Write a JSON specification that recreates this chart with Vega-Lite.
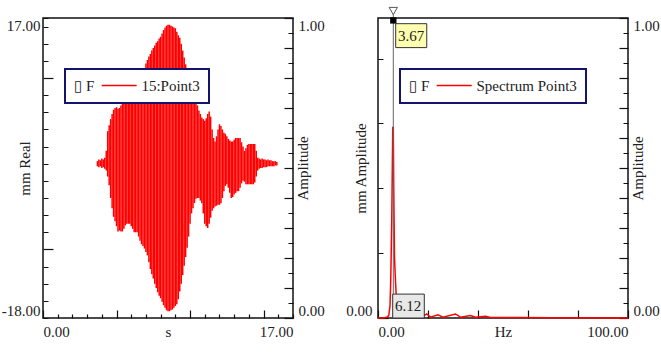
{
  "$schema": "https://vega.github.io/schema/vega-lite/v6.json",
  "padding": {"left": 0, "top": 4, "right": 0, "bottom": 0},
  "background": "white",
  "bounds": "flush",
  "spacing": 85,
  "config": {
    "font": "Liberation Serif",
    "view": {"stroke": "#111", "strokeWidth": 1.5},
    "axis": {
      "labelFont": "Liberation Serif", "labelFontSize": 15, "labelColor": "#222",
      "titleFont": "Liberation Serif", "titleFontSize": 15, "titleFontWeight": "normal", "titleColor": "#222",
      "domain": false, "tickColor": "#111", "tickWidth": 1.2,
      "grid": false, "labelFlush": true, "labelOverlap": false
    },
    "legend": {
      "titleOrient": "left", "titleFont": "Liberation Serif, DejaVu Sans", "titleFontSize": 15, "titleFontWeight": "normal",
      "titleColor": "#222", "titlePadding": 16.7, "titleBaseline": "middle",
      "labelFont": "Liberation Serif", "labelFontSize": 15, "labelColor": "#222", "labelOffset": 14.7,
      "symbolType": "M-3,0H3", "symbolSize": 136, "symbolStrokeWidth": 1.5,
      "padding": 9, "strokeColor": "#14146e", "fillColor": "white", "strokeWidth": 2
    }
  },
  "resolve": {"scale": {"color": "independent"}, "legend": {"color": "independent"}},
  "datasets": {
    "wave": [
      {"t":3.7,"hi":0.3,"lo":-0.3},{"t":3.8,"hi":0.5,"lo":-0.4},{"t":3.9,"hi":0.4,"lo":-0.3},{"t":4.0,"hi":0.6,"lo":-0.5},
      {"t":4.1,"hi":0.5,"lo":-0.4},{"t":4.2,"hi":0.7,"lo":-0.6},{"t":4.3,"hi":1.5,"lo":-0.8},{"t":4.4,"hi":3.8,"lo":-1.5},
      {"t":4.5,"hi":4.5,"lo":-2.5},{"t":4.6,"hi":5.2,"lo":-4.0},{"t":4.7,"hi":5.8,"lo":-5.2},{"t":4.8,"hi":6.3,"lo":-6.2},
      {"t":4.9,"hi":6.5,"lo":-6.7},{"t":5.0,"hi":6.6,"lo":-7.3},{"t":5.1,"hi":6.4,"lo":-7.9},{"t":5.2,"hi":6.5,"lo":-7.8},
      {"t":5.3,"hi":6.8,"lo":-7.9},{"t":5.4,"hi":7.0,"lo":-7.9},{"t":5.5,"hi":7.2,"lo":-7.6},{"t":5.6,"hi":7.3,"lo":-7.2},
      {"t":5.7,"hi":7.4,"lo":-7.0},{"t":5.8,"hi":7.6,"lo":-7.0},{"t":5.9,"hi":7.7,"lo":-7.0},{"t":6.0,"hi":8.0,"lo":-7.3},
      {"t":6.1,"hi":8.4,"lo":-7.6},{"t":6.2,"hi":8.7,"lo":-8.0},{"t":6.3,"hi":9.0,"lo":-8.0},{"t":6.4,"hi":9.3,"lo":-8.0},
      {"t":6.5,"hi":9.5,"lo":-8.5},{"t":6.6,"hi":9.6,"lo":-9.0},{"t":6.7,"hi":10.0,"lo":-9.4},{"t":6.8,"hi":10.5,"lo":-9.6},
      {"t":6.9,"hi":11.1,"lo":-9.9},{"t":7.0,"hi":11.7,"lo":-10.3},{"t":7.1,"hi":12.1,"lo":-10.7},{"t":7.2,"hi":12.5,"lo":-11.5},
      {"t":7.3,"hi":12.8,"lo":-12.3},{"t":7.4,"hi":13.2,"lo":-12.9},{"t":7.5,"hi":13.5,"lo":-13.4},{"t":7.6,"hi":13.8,"lo":-14.0},
      {"t":7.7,"hi":14.1,"lo":-14.5},{"t":7.8,"hi":14.3,"lo":-15.0},{"t":7.9,"hi":14.6,"lo":-15.4},{"t":8.0,"hi":14.8,"lo":-15.7},
      {"t":8.1,"hi":15.2,"lo":-16.1},{"t":8.2,"hi":15.6,"lo":-16.5},{"t":8.3,"hi":15.9,"lo":-16.8},{"t":8.4,"hi":16.1,"lo":-17.1},
      {"t":8.5,"hi":16.2,"lo":-17.2},{"t":8.6,"hi":16.2,"lo":-17.2},{"t":8.7,"hi":16.1,"lo":-17.1},{"t":8.8,"hi":16.0,"lo":-17.0},
      {"t":8.9,"hi":15.9,"lo":-16.8},{"t":9.0,"hi":15.8,"lo":-16.6},{"t":9.1,"hi":15.4,"lo":-16.4},{"t":9.2,"hi":15.0,"lo":-15.8},
      {"t":9.3,"hi":14.7,"lo":-14.9},{"t":9.4,"hi":14.0,"lo":-14.0},{"t":9.5,"hi":13.2,"lo":-13.0},{"t":9.6,"hi":12.4,"lo":-11.9},
      {"t":9.7,"hi":11.6,"lo":-10.9},{"t":9.8,"hi":10.5,"lo":-9.8},{"t":9.9,"hi":9.9,"lo":-8.5},{"t":10.0,"hi":9.3,"lo":-7.0},
      {"t":10.1,"hi":8.7,"lo":-5.8},{"t":10.2,"hi":8.1,"lo":-5.2},{"t":10.3,"hi":7.6,"lo":-4.6},{"t":10.4,"hi":7.3,"lo":-4.1},
      {"t":10.5,"hi":6.8,"lo":-4.0},{"t":10.6,"hi":6.2,"lo":-4.0},{"t":10.7,"hi":5.8,"lo":-4.3},{"t":10.8,"hi":5.4,"lo":-4.6},
      {"t":10.9,"hi":5.2,"lo":-5.8},{"t":11.0,"hi":5.0,"lo":-7.0},{"t":11.1,"hi":5.3,"lo":-7.3},{"t":11.2,"hi":5.8,"lo":-7.5},
      {"t":11.3,"hi":6.1,"lo":-7.0},{"t":11.4,"hi":5.5,"lo":-6.3},{"t":11.5,"hi":4.0,"lo":-5.5},{"t":11.6,"hi":3.0,"lo":-5.2},
      {"t":11.7,"hi":2.6,"lo":-5.0},{"t":11.8,"hi":3.2,"lo":-4.9},{"t":11.9,"hi":4.0,"lo":-4.8},{"t":12.0,"hi":4.6,"lo":-4.8},
      {"t":12.1,"hi":4.4,"lo":-4.6},{"t":12.2,"hi":4.0,"lo":-4.0},{"t":12.3,"hi":3.6,"lo":-3.2},{"t":12.4,"hi":3.5,"lo":-2.6},
      {"t":12.5,"hi":3.2,"lo":-2.4},{"t":12.6,"hi":2.9,"lo":-2.8},{"t":12.7,"hi":2.7,"lo":-3.4},{"t":12.8,"hi":2.6,"lo":-4.0},
      {"t":12.9,"hi":2.6,"lo":-3.9},{"t":13.0,"hi":2.8,"lo":-3.6},{"t":13.1,"hi":3.0,"lo":-3.4},{"t":13.2,"hi":3.0,"lo":-3.2},
      {"t":13.3,"hi":3.0,"lo":-3.2},{"t":13.4,"hi":3.0,"lo":-2.8},{"t":13.5,"hi":2.5,"lo":-2.3},{"t":13.6,"hi":2.0,"lo":-2.0},
      {"t":13.7,"hi":1.5,"lo":-2.1},{"t":13.8,"hi":1.8,"lo":-2.4},{"t":13.9,"hi":2.2,"lo":-2.4},{"t":14.0,"hi":2.3,"lo":-2.4},
      {"t":14.1,"hi":2.3,"lo":-2.4},{"t":14.2,"hi":2.3,"lo":-2.4},{"t":14.3,"hi":2.3,"lo":-2.4},{"t":14.4,"hi":2.3,"lo":-2.2},
      {"t":14.5,"hi":1.5,"lo":-1.5},{"t":14.6,"hi":0.7,"lo":-0.8},{"t":14.7,"hi":0.6,"lo":-0.6},{"t":14.8,"hi":0.5,"lo":-0.5},
      {"t":14.9,"hi":0.6,"lo":-0.5},{"t":15.0,"hi":0.5,"lo":-0.4},{"t":15.1,"hi":0.5,"lo":-0.4},{"t":15.2,"hi":0.4,"lo":-0.4},
      {"t":15.3,"hi":0.5,"lo":-0.3},{"t":15.4,"hi":0.4,"lo":-0.3},{"t":15.5,"hi":0.4,"lo":-0.3},{"t":15.6,"hi":0.3,"lo":-0.3},
      {"t":15.7,"hi":0.3,"lo":-0.3},{"t":15.8,"hi":0.3,"lo":-0.2},{"t":15.9,"hi":0.2,"lo":-0.2}
    ],
    "spectrum": [
      {"f":0,"a":0},{"f":2,"a":0.0},{"f":3.5,"a":0.01},{"f":4.3,"a":0.03},{"f":4.8,"a":0.15},{"f":5.1,"a":0.47},
      {"f":5.5,"a":1.2},{"f":5.9,"a":2.35},{"f":6.12,"a":2.35},{"f":6.3,"a":1.6},{"f":6.6,"a":0.74},{"f":7.0,"a":0.45},
      {"f":7.5,"a":0.15},{"f":8.2,"a":0.05},{"f":9,"a":0.02},{"f":12,"a":0.01},{"f":15,"a":0.01},{"f":18,"a":0.02},
      {"f":19.5,"a":0.05},{"f":21,"a":0.01},{"f":24,"a":0.04},{"f":26,"a":0.01},{"f":31,"a":0.05},{"f":33,"a":0.01},
      {"f":37,"a":0.03},{"f":39,"a":0.01},{"f":43,"a":0.02},{"f":45,"a":0.005},{"f":55,"a":0.005},{"f":70,"a":0.003},{"f":100,"a":0}
    ],
    "dummy": [{"amp": 0}, {"amp": 1}]
  },
  "hconcat": [
    {
      "width": 250, "height": 300,
      "resolve": {"scale": {"y": "independent"}},
      "layer": [
        {
          "data": {"name": "wave"},
          "mark": {"type": "rule", "strokeWidth": 1.5},
          "encoding": {
            "x": {"field": "t", "type": "quantitative", "scale": {"domain": [0, 17], "nice": false, "zero": false},
              "axis": {"orient": "bottom", "title": "s", "values": [0,1,2,3,4,5,6,7,8,9,10,11,12,13,14,15,16,17],
                "labelExpr": "datum.value == 0 ? '0.00' : datum.value == 17 ? '17.00' : ''",
                "tickSize": 8, "offset": -8,
                "tickDash": {"condition": {"test": "datum.value % 5 != 0", "value": [0, 4, 4]}, "value": []},
                "labelPadding": 6, "titleY": 26, "titleBaseline": "alphabetic"}},
            "y": {"field": "hi", "type": "quantitative", "scale": {"domain": [-18, 17], "nice": false, "zero": false},
              "axis": {"orient": "left", "title": "mm Real", "values": [-18,-16,-14,-12,-10,-8,-6,-4,-2,0,2,4,6,8,10,12,14,16,17],
                "labelExpr": "datum.value == 17 ? '17.00' : datum.value == -18 ? '-18.00' : ''",
                "tickSize": 10, "offset": -10,
                "tickDash": {"condition": {"test": "abs(datum.value) != 10", "value": [0, 5, 5]}, "value": []},
                "labelPadding": 3, "titleX": -29, "titleBaseline": "middle", "titleAngle": 270}},
            "y2": {"field": "lo"},
            "color": {"datum": "15:Point3", "type": "nominal", "scale": {"range": ["#ff0000"]},
              "legend": {"title": "▯ F", "orient": "none", "legendX": 22, "legendY": 51, "direction": "horizontal"}}
          }
        },
        {
          "data": {"name": "dummy"},
          "mark": {"type": "point", "opacity": 0},
          "encoding": {
            "y": {"field": "amp", "type": "quantitative", "scale": {"domain": [0, 1], "nice": false, "zero": false},
              "axis": {"orient": "right", "title": "Amplitude",
                "values": [0,0.05,0.1,0.15,0.2,0.25,0.3,0.35,0.4,0.45,0.5,0.55,0.6,0.65,0.7,0.75,0.8,0.85,0.9,0.95,1],
                "labelExpr": "datum.value == 0 ? '0.00' : datum.value == 1 ? '1.00' : ''",
                "tickSize": 9, "offset": -9,
                "tickDash": {"condition": {"test": "abs(datum.value*10 - round(datum.value*10)) > 0.01", "value": [0, 4, 5]}, "value": []},
                "labelPadding": 5, "titleX": 18, "titleAngle": 270, "titleBaseline": "middle"}}
          }
        }
      ]
    },
    {
      "width": 250, "height": 300,
      "resolve": {"scale": {"y": "independent"}},
      "layer": [
        {
          "layer": [
            {
              "data": {"name": "spectrum"},
              "mark": {"type": "line", "strokeWidth": 1.5},
              "encoding": {
                "x": {"field": "f", "type": "quantitative", "scale": {"domain": [0, 100], "nice": false, "zero": false},
                  "axis": {"orient": "bottom", "title": "Hz", "values": [0,5,10,15,20,25,30,35,40,45,50,55,60,65,70,75,80,85,90,95,100],
                    "labelExpr": "datum.value == 0 ? '0.00' : datum.value == 100 ? '100.00' : ''",
                    "tickSize": 8, "offset": -8,
                    "tickDash": {"condition": {"test": "datum.value % 10 != 0", "value": [0, 4, 4]}, "value": []},
                    "labelPadding": 6, "titleY": 26, "titleBaseline": "alphabetic"}},
                "y": {"field": "a", "type": "quantitative", "scale": {"domain": [0, 3.7], "nice": false, "zero": false},
                  "axis": {"orient": "left", "title": "mm Amplitude", "values": [0,0.2,0.4,0.6,0.8,1,1.2,1.4,1.6,1.8,2,2.2,2.4,2.6,2.8,3,3.2,3.4,3.6,3.7],
                    "labelExpr": "datum.value == 0 ? '0.00' : datum.value == 3.7 ? '3.70' : ''",
                    "tickSize": 10, "offset": -10,
                    "tickDash": {"condition": {"test": "abs(datum.value - round(datum.value)) > 0.01", "value": [0, 5, 5]}, "value": []},
                    "labelPadding": 6, "titleX": -28, "titleBaseline": "middle", "titleAngle": 270}},
                "color": {"datum": "Spectrum Point3", "type": "nominal", "scale": {"range": ["#ff0000"]},
                  "legend": {"title": "▯ F", "orient": "none", "legendX": 22, "legendY": 51, "direction": "horizontal"}}
              }
            },
            {
              "data": {"values": [{"f": 6.12, "a": 0, "a2": 3.78}]},
              "mark": {"type": "rule", "color": "#666", "strokeWidth": 1},
              "encoding": {"x": {"field": "f", "type": "quantitative"}, "y": {"field": "a", "type": "quantitative"}, "y2": {"field": "a2"}}
            },
            {
              "data": {"values": [{"f": 7.08, "f2": 19.5, "a": 3.335, "a2": 3.63}]},
              "mark": {"type": "rect", "fill": "#ffffb0", "stroke": "#333", "strokeWidth": 1},
              "encoding": {"x": {"field": "f", "type": "quantitative"}, "x2": {"field": "f2"}, "y": {"field": "a", "type": "quantitative"}, "y2": {"field": "a2"}}
            },
            {
              "data": {"values": [{"f": 5.88, "f2": 18.52, "a": 0, "a2": 0.295}]},
              "mark": {"type": "rect", "fill": "#e8e8e8", "stroke": "#333", "strokeWidth": 1},
              "encoding": {"x": {"field": "f", "type": "quantitative"}, "x2": {"field": "f2"}, "y": {"field": "a", "type": "quantitative"}, "y2": {"field": "a2"}}
            },
            {
              "data": {"values": [{"f": 8.0, "a": 3.48, "label": "3.67"}, {"f": 6.8, "a": 0.148, "label": "6.12"}]},
              "mark": {"type": "text", "align": "left", "baseline": "middle", "font": "Liberation Serif", "fontSize": 15, "color": "#222"},
              "encoding": {"x": {"field": "f", "type": "quantitative"}, "y": {"field": "a", "type": "quantitative"}, "text": {"field": "label"}}
            },
            {
              "data": {"values": [{"f": 6.12, "a": 3.786}]},
              "mark": {"type": "point", "shape": "triangle-down", "size": 70, "filled": true, "fill": "white", "stroke": "#555", "strokeWidth": 1, "opacity": 1},
              "encoding": {"x": {"field": "f", "type": "quantitative"}, "y": {"field": "a", "type": "quantitative"}}
            },
            {
              "data": {"values": [{"f": 6.12, "a": 3.67}]},
              "mark": {"type": "point", "shape": "square", "size": 40, "filled": true, "color": "#000", "opacity": 1},
              "encoding": {"x": {"field": "f", "type": "quantitative"}, "y": {"field": "a", "type": "quantitative"}}
            }
          ]
        },
        {
          "data": {"name": "dummy"},
          "mark": {"type": "point", "opacity": 0},
          "encoding": {
            "y": {"field": "amp", "type": "quantitative", "scale": {"domain": [0, 1], "nice": false, "zero": false},
              "axis": {"orient": "right", "title": "Amplitude",
                "values": [0,0.05,0.1,0.15,0.2,0.25,0.3,0.35,0.4,0.45,0.5,0.55,0.6,0.65,0.7,0.75,0.8,0.85,0.9,0.95,1],
                "labelExpr": "datum.value == 0 ? '0.00' : datum.value == 1 ? '1.00' : ''",
                "tickSize": 9, "offset": -9,
                "tickDash": {"condition": {"test": "abs(datum.value*10 - round(datum.value*10)) > 0.01", "value": [0, 4, 5]}, "value": []},
                "labelPadding": 5, "titleX": 18, "titleAngle": 270, "titleBaseline": "middle"}}
          }
        }
      ]
    }
  ]
}
